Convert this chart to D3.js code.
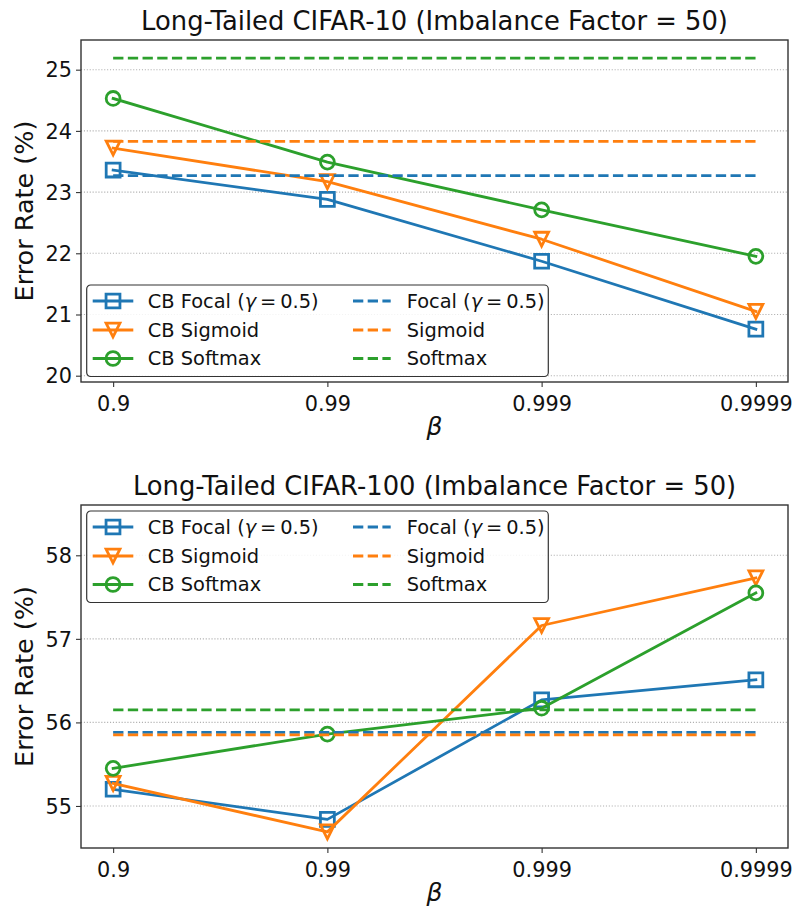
<!DOCTYPE html>
<html>
<head>
<meta charset="utf-8">
<script src="https://cdn.jsdelivr.net/npm/d3@7"></script>
<style>
  html, body { margin: 0; padding: 0; background: #fff; }
  svg { display: block; font-family: "DejaVu Sans", sans-serif; }
</style>
</head>
<body>
<svg id="chart" width="792" height="909"></svg>
<script>
// Class-balanced loss sweep over beta on long-tailed CIFAR
const betas = ["0.9", "0.99", "0.999", "0.9999"];

// Long-Tailed CIFAR-10, imbalance factor 50
const c10CbFocal   = [23.36, 22.88, 21.87, 20.76];
const c10CbSigmoid = [23.72, 23.17, 22.23, 21.05];
const c10CbSoftmax = [24.53, 23.49, 22.71, 21.95];
const c10Focal   = 23.27;
const c10Sigmoid = 23.83;
const c10Softmax = 25.19;
const c10Ticks = [20, 21, 22, 23, 24, 25];

// Long-Tailed CIFAR-100, imbalance factor 50
const c100CbFocal   = [55.20, 54.84, 56.27, 56.51];
const c100CbSigmoid = [55.27, 54.69, 57.16, 57.73];
const c100CbSoftmax = [55.45, 55.86, 56.17, 57.55];
const c100Focal   = 55.88;
const c100Sigmoid = 55.85;
const c100Softmax = 56.15;
const c100Ticks = [55, 56, 57, 58];

const titles = [
  "Long-Tailed CIFAR-10 (Imbalance Factor = 50)",
  "Long-Tailed CIFAR-100 (Imbalance Factor = 50)"
];
const seriesNames = ["CB Focal", "CB Sigmoid", "CB Softmax"];
const baselineNames = ["Focal", "Sigmoid", "Softmax"];
const colors = ["#1f77b4", "#ff7f0e", "#2ca02c"];
const markers = ["square", "triangleDown", "circle"];

const svg = d3.select("#chart");

const LW = 2.78;          // line width
const MS = 13.9;          // marker size
const DASH = "10.3,4.4";

function markerPath(kind, s) {
  const h = s / 2;
  if (kind === "square") return `M${-h},${-h}H${h}V${h}H${-h}Z`;
  if (kind === "triangleDown") return `M${-h},${-h}L${h},${-h}L0,${h}Z`;
  return `M${h},0A${h},${h} 0 1,1 ${-h},0A${h},${h} 0 1,1 ${h},0Z`;
}

function drawPanel(cfg) {
  const { top, bottom, left, right, yLim, yTicks, solid, dashed, title, legendTop } = cfg;
  const g = svg.append("g");

  const x = d3.scaleLinear().domain([-0.15, 3.15]).range([left, right]);
  const y = d3.scaleLinear().domain(yLim).range([bottom, top]);

  // horizontal dotted grid
  g.append("g").selectAll("line").data(yTicks).join("line")
    .attr("x1", left).attr("x2", right)
    .attr("y1", d => y(d)).attr("y2", d => y(d))
    .attr("stroke", "#b0b0b0").attr("stroke-width", 1.1)
    .attr("stroke-dasharray", "1.1,1.8");

  const clip = "clip" + top;
  svg.append("clipPath").attr("id", clip).append("rect")
    .attr("x", left).attr("y", top).attr("width", right - left).attr("height", bottom - top);
  const plot = g.append("g").attr("clip-path", `url(#${clip})`);

  const line = d3.line().x((d, i) => x(i)).y(d => y(d));

  solid.forEach((vals, k) => {
    plot.append("path").datum(vals)
      .attr("d", line).attr("fill", "none")
      .attr("stroke", colors[k]).attr("stroke-width", LW)
      .attr("stroke-linejoin", "round").attr("stroke-linecap", "square");
    plot.append("g").selectAll("path").data(vals).join("path")
      .attr("transform", (d, i) => `translate(${x(i)},${y(d)})`)
      .attr("d", markerPath(markers[k], MS))
      .attr("fill", "none").attr("stroke", colors[k]).attr("stroke-width", LW);
  });

  dashed.forEach((v, k) => {
    plot.append("line")
      .attr("x1", x(0)).attr("x2", x(betas.length - 1))
      .attr("y1", y(v)).attr("y2", y(v))
      .attr("stroke", colors[k]).attr("stroke-width", LW)
      .attr("stroke-dasharray", DASH);
  });

  // axes
  const yAxis = d3.axisLeft(y).tickValues(yTicks).tickSize(5).tickPadding(4).tickFormat(d3.format("d"));
  const ya = g.append("g").attr("transform", `translate(${left},0)`).call(yAxis);
  const xAxis = d3.axisBottom(x).tickValues(d3.range(betas.length)).tickSize(5).tickPadding(4)
    .tickFormat(i => betas[i]);
  const xa = g.append("g").attr("transform", `translate(0,${bottom})`).call(xAxis);
  [ya, xa].forEach(a => {
    a.select(".domain").remove();
    a.selectAll(".tick line").attr("stroke", "#333").attr("stroke-width", 1.1);
    a.selectAll(".tick text").attr("fill", "#111").style("font-size", "20.8px")
      .style("font-family", "DejaVu Sans");
  });
  ya.selectAll(".tick text").attr("dy", "0.35em");
  xa.selectAll(".tick text").attr("dy", "0.95em");

  // frame
  g.append("rect").attr("x", left).attr("y", top)
    .attr("width", right - left).attr("height", bottom - top)
    .attr("fill", "none").attr("stroke", "#333").attr("stroke-width", 1.4);

  // labels
  g.append("text").attr("x", (left + right) / 2).attr("y", top - 10.5)
    .attr("text-anchor", "middle").style("font-size", "25.8px").attr("fill", "#111").text(title);
  g.append("text")
    .attr("transform", `translate(33,${(top + bottom) / 2}) rotate(-90)`)
    .attr("text-anchor", "middle").style("font-size", "25.5px").attr("fill", "#111")
    .text("Error Rate (%)");
  g.append("text").attr("x", (left + right) / 2).attr("y", bottom + 53)
    .attr("text-anchor", "middle").style("font-size", "25px").style("font-style", "italic")
    .attr("fill", "#111").text("β");

  // legend
  const lg = g.append("g").attr("transform", `translate(86.7,${legendTop})`);
  lg.append("rect").attr("width", 461.6).attr("height", 91.5).attr("rx", 4)
    .attr("fill", "#fff").attr("fill-opacity", 0.85)
    .attr("stroke", "#333").attr("stroke-width", 1.2);
  const rowY = [16, 45, 73.5];
  function label(sel, name, withGamma) {
    if (withGamma) {
      sel.append("tspan").text(name + " (");
      sel.append("tspan").style("font-style", "italic").text("γ");
      sel.append("tspan").text("\u2009=\u20090.5)");
    } else {
      sel.text(name);
    }
  }
  seriesNames.forEach((n, k) => {
    const r = lg.append("g").attr("transform", `translate(0,${rowY[k]})`);
    r.append("line").attr("x1", 6).attr("x2", 46.6).attr("y1", 0).attr("y2", 0)
      .attr("stroke", colors[k]).attr("stroke-width", LW);
    r.append("path").attr("transform", "translate(26.3,0)")
      .attr("d", markerPath(markers[k], MS))
      .attr("fill", "none").attr("stroke", colors[k]).attr("stroke-width", LW);
    const t = r.append("text").attr("x", 61).attr("y", 0).attr("dy", "0.36em")
      .style("font-size", "19.4px").attr("fill", "#111");
    label(t, n, k === 0);
  });
  baselineNames.forEach((n, k) => {
    const r = lg.append("g").attr("transform", `translate(0,${rowY[k]})`);
    r.append("line").attr("x1", 266.3).attr("x2", 304).attr("y1", 0).attr("y2", 0)
      .attr("stroke", colors[k]).attr("stroke-width", LW).attr("stroke-dasharray", DASH);
    const t = r.append("text").attr("x", 320).attr("y", 0).attr("dy", "0.36em")
      .style("font-size", "19.4px").attr("fill", "#111");
    label(t, n, k === 0);
  });
}

drawPanel({
  top: 40, bottom: 382, left: 81, right: 788,
  yLim: [19.897, 25.485], yTicks: c10Ticks,
  solid: [c10CbFocal, c10CbSigmoid, c10CbSoftmax],
  dashed: [c10Focal, c10Sigmoid, c10Softmax],
  title: titles[0], legendTop: 285
});

drawPanel({
  top: 505, bottom: 848, left: 81, right: 788,
  yLim: [54.497, 58.602], yTicks: c100Ticks,
  solid: [c100CbFocal, c100CbSigmoid, c100CbSoftmax],
  dashed: [c100Focal, c100Sigmoid, c100Softmax],
  title: titles[1], legendTop: 511
});
</script>
</body>
</html>
